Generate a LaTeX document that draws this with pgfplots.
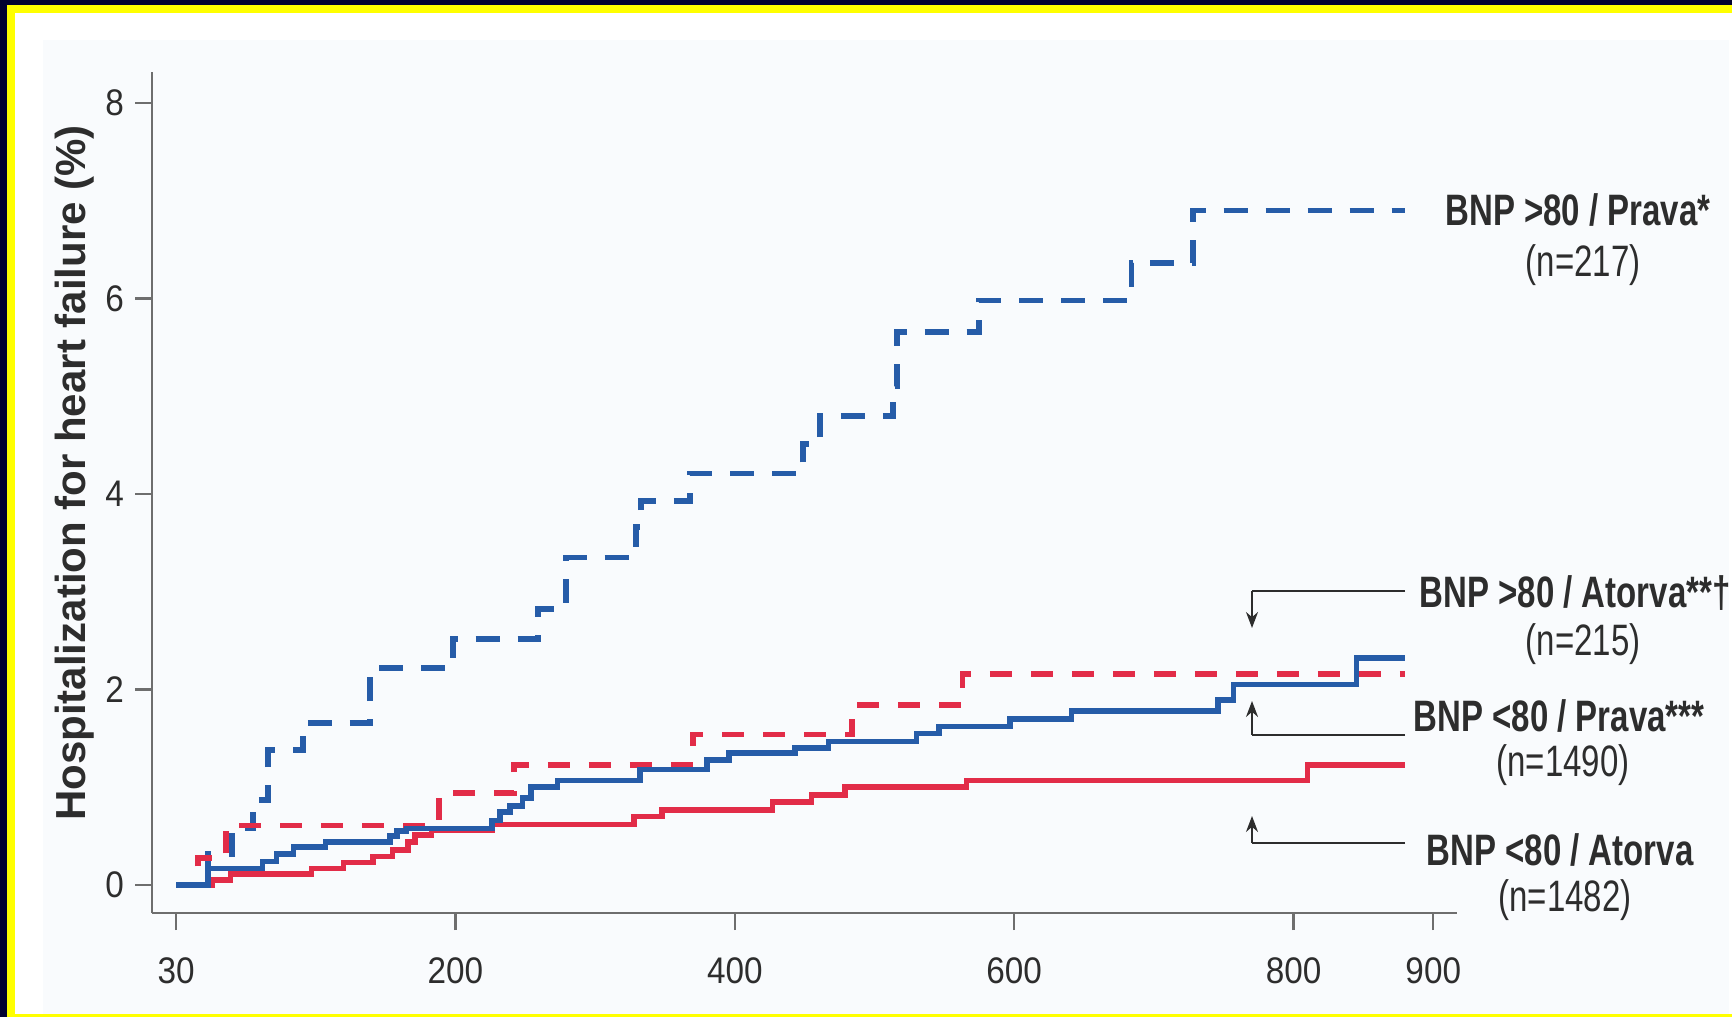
\documentclass[border=0pt]{standalone}
\usepackage{pgfplots}
\pgfplotsset{compat=1.18}
\usepackage{fontspec}
\setmainfont{Liberation Sans}
\newfontfamily\condfont[FakeStretch=0.75]{Liberation Sans}
\newfontfamily\tickfont[FakeStretch=0.9]{Liberation Sans}
\usetikzlibrary{arrows.meta}
\definecolor{navy}{RGB}{2,2,48}
\definecolor{frameyellow}{RGB}{255,255,0}
\definecolor{bgblue}{RGB}{249,251,253}
\definecolor{axisgray}{RGB}{110,110,110}
\definecolor{labelgray}{RGB}{45,45,45}
\definecolor{cblue}{RGB}{38,92,168}
\definecolor{cred}{RGB}{226,44,72}
\begin{document}
\begin{tikzpicture}
\begin{scope}[x=0.5pt,y=-0.5pt,yshift=508.5pt]
\path[use as bounding box] (0,0) rectangle (1732,1017);
\fill[navy] (0,0) rectangle (1732,1017);
\fill[frameyellow] (7,5) rectangle (1732,1017);
\fill[white] (15,13) rectangle (1732,1014);
\fill[bgblue] (43,40) rectangle (1729,1014);
\end{scope}
\begin{axis}[
  at={(76pt,52pt)}, anchor=south west,
  scale only axis, width=652.5pt, height=420.5pt,
  xmin=-17.2, xmax=917, ymin=-0.286, ymax=8.317,
  axis lines*=left,
  axis line style={draw=axisgray, line width=1.3pt},
  tick style={draw=axisgray, line width=1.1pt},
  tick align=outside, major tick length=8.5pt,
  xtick={0,200,400,600,800,900}, xticklabels={30,200,400,600,800,900},
  ytick={0,2,4,6,8}, yticklabels={0,2,4,6,8},
  ticklabel style={font=\tickfont\fontsize{18.5}{18.5}\selectfont, text=labelgray},
  xticklabel style={anchor=north, yshift=-10.5pt},
  yticklabel style={anchor=east, xshift=-2pt},
  clip=false,
]
% BNP >80 / Prava* (blue dashed)
\addplot[const plot, cblue, line width=2.9pt, dash pattern=on 12pt off 9pt] coordinates {
(0,0) (23,0.32) (40,0.58) (55,0.87) (66,1.38) (91,1.66) (139,2.22) (198,2.52) (259,2.82) (279,3.35) (329,3.66) (333,3.93) (368,4.21) (449,4.51) (461,4.80) (513,5.1) (516,5.66) (575,5.98) (684,6.36) (728,6.9) (880,6.9)};
% BNP >80 / Atorva (red dashed)
\addplot[const plot, cred, line width=2.9pt, dash pattern=on 11pt off 9.5pt] coordinates {
(0,0) (16,0.28) (36,0.61) (188,0.94) (242,1.23) (370,1.54) (484,1.84) (563,2.16) (880,2.16)};
% BNP <80 / Atorva (red solid)
\addplot[const plot, cred, line width=2.8pt] coordinates {
(0,0) (26,0.05) (39,0.11) (97,0.17) (120,0.23) (141,0.29) (155,0.36) (166,0.44) (171,0.51) (183,0.56) (226,0.62) (328,0.7) (348,0.77) (427,0.85) (455,0.92) (479,1.0) (566,1.07) (810,1.23) (880,1.23)};
% BNP <80 / Prava (blue solid)
\addplot[const plot, cblue, line width=2.8pt] coordinates {
(0,0) (23,0.17) (62,0.24) (72,0.32) (84,0.39) (107,0.44) (153,0.5) (158,0.55) (165,0.58) (226,0.66) (232,0.75) (239,0.81) (248,0.89) (254,1.0) (273,1.07) (332,1.18) (380,1.28) (396,1.35) (443,1.4) (467,1.47) (530,1.55) (546,1.62) (597,1.7) (641,1.78) (746,1.89) (757,2.05) (845,2.32) (880,2.32)};
\end{axis}
\begin{scope}[x=0.5pt,y=-0.5pt,yshift=508.5pt]
\node[rotate=90, font=\bfseries\fontsize{21}{21}\selectfont, text=labelgray] at (75,473) {Hospitalization for heart failure (\%)};
\draw[labelgray, line width=1pt] (1405,591) -- (1252,591);
\draw[labelgray, line width=1pt, -{Stealth[length=8pt,width=6pt]}] (1252,591) -- (1252,628);
\draw[labelgray, line width=1pt] (1405,735) -- (1252,735);
\draw[labelgray, line width=1pt, -{Stealth[length=8pt,width=6pt]}] (1252,735) -- (1252,701);
\draw[labelgray, line width=1pt] (1405,843) -- (1252,843);
\draw[labelgray, line width=1pt, -{Stealth[length=8pt,width=6pt]}] (1252,843) -- (1252,816);
\tikzset{lab/.style={font=\condfont\bfseries\fontsize{22}{22}\selectfont, text=labelgray, inner sep=0pt},
         num/.style={font=\condfont\fontsize{22}{22}\selectfont, text=labelgray, inner sep=0pt}}
\node[lab] at (1578,210) {BNP >80 / Prava*};
\node[num] at (1583,265) {(n=217)};
\node[lab] at (1575,593) {BNP >80 / Atorva**†};
\node[num] at (1583,644) {(n=215)};
\node[lab] at (1559,716) {BNP <80 / Prava***};
\node[num] at (1563,765) {(n=1490)};
\node[lab] at (1560,850) {BNP <80 / Atorva};
\node[num] at (1565,900) {(n=1482)};
\end{scope}
\end{tikzpicture}
\end{document}
